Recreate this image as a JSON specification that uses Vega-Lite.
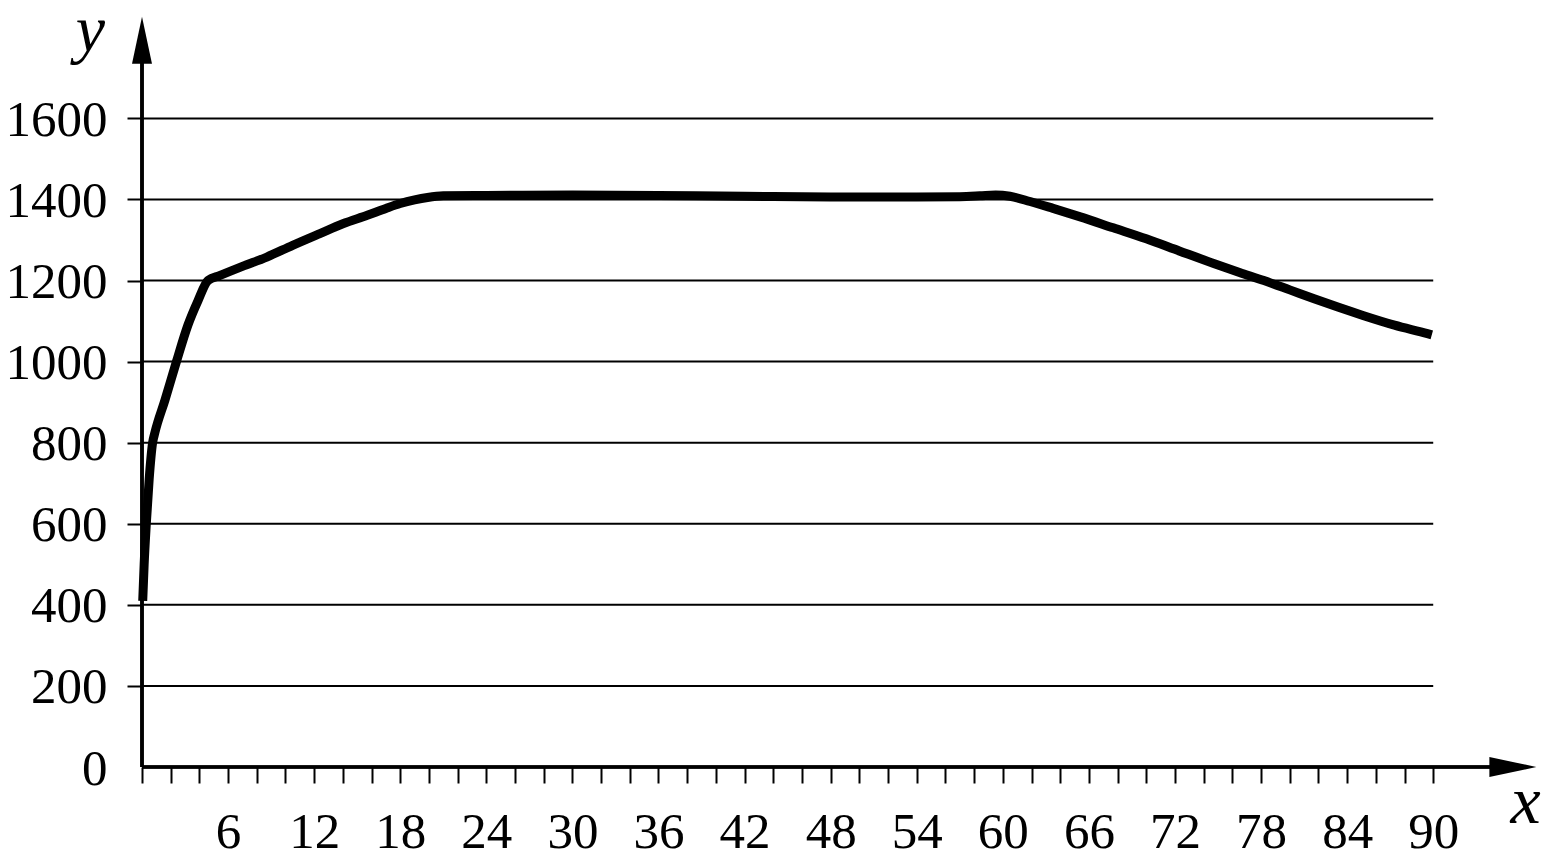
{
  "$schema": "https://vega.github.io/schema/vega-lite/v6.json",
  "width": 1406,
  "height": 754,
  "autosize": {"type": "none"},
  "padding": {"left": 142, "top": 13, "right": 6, "bottom": 96},
  "background": "white",
  "config": {"view": {"stroke": null}, "font": "Liberation Serif"},
  "datasets": {
    "curve": [
      {"x": 0.05, "y": 410}, {"x": 0.15, "y": 500}, {"x": 0.3, "y": 600}, {"x": 0.5, "y": 710},
      {"x": 0.74, "y": 800}, {"x": 0.9, "y": 825}, {"x": 1.6, "y": 905}, {"x": 2.4, "y": 1000},
      {"x": 3.2, "y": 1090}, {"x": 3.9, "y": 1150}, {"x": 4.6, "y": 1200}, {"x": 5.4, "y": 1212},
      {"x": 7.0, "y": 1235}, {"x": 8.7, "y": 1258}, {"x": 10.5, "y": 1287}, {"x": 12.4, "y": 1316},
      {"x": 14.0, "y": 1340}, {"x": 15.7, "y": 1361}, {"x": 17.0, "y": 1378}, {"x": 18.0, "y": 1390},
      {"x": 19.0, "y": 1399}, {"x": 19.9, "y": 1405}, {"x": 21, "y": 1409}, {"x": 24, "y": 1410},
      {"x": 30, "y": 1411}, {"x": 36, "y": 1410}, {"x": 42, "y": 1408}, {"x": 48, "y": 1406},
      {"x": 54, "y": 1406}, {"x": 57, "y": 1407}, {"x": 58.4, "y": 1409}, {"x": 59.5, "y": 1411},
      {"x": 60.5, "y": 1408}, {"x": 61.9, "y": 1395}, {"x": 63.5, "y": 1378}, {"x": 65.4, "y": 1357},
      {"x": 67.7, "y": 1330}, {"x": 70.0, "y": 1303}, {"x": 72.3, "y": 1273}, {"x": 74.7, "y": 1242},
      {"x": 76.5, "y": 1220}, {"x": 78.2, "y": 1200}, {"x": 80.0, "y": 1177}, {"x": 81.7, "y": 1155},
      {"x": 83.4, "y": 1134}, {"x": 85.1, "y": 1114}, {"x": 87.3, "y": 1090}, {"x": 89.6, "y": 1069},
      {"x": 89.9, "y": 1066}
    ],
    "grid": [
      {"level": 200}, {"level": 400}, {"level": 600}, {"level": 800},
      {"level": 1000}, {"level": 1200}, {"level": 1400}, {"level": 1600}
    ]
  },
  "layer": [
    {
      "data": {"name": "grid"},
      "mark": {"type": "rule", "color": "black", "strokeWidth": 2},
      "encoding": {
        "y": {"field": "level", "type": "quantitative", "title": "y"},
        "x": {"datum": 0, "type": "quantitative", "title": "x"},
        "x2": {"datum": 90}
      }
    },
    {
      "data": {"name": "grid"},
      "mark": {"type": "rule", "color": "black", "strokeWidth": 2.6},
      "encoding": {
        "x": {"datum": 0, "type": "quantitative", "title": "x"},
        "y": {"datum": 0, "type": "quantitative", "title": "y"},
        "y2": {"datum": 1790}
      }
    },
    {
      "data": {"name": "grid"},
      "mark": {"type": "rule", "color": "black", "strokeWidth": 2.6},
      "encoding": {
        "x": {"datum": 0, "type": "quantitative", "title": "x"},
        "x2": {"datum": 96},
        "y": {"datum": 0, "type": "quantitative", "title": "y"}
      }
    },
    {
      "data": {"values": [{}]},
      "mark": {"type": "point", "filled": true, "color": "black", "opacity": 1, "strokeWidth": 0, "size": 2209, "shape": "M0,-1L0.4255,1L-0.4255,1Z"},
      "encoding": {
        "x": {"datum": 0, "type": "quantitative", "title": "x"},
        "y": {"datum": 1793, "type": "quantitative", "title": "y"}
      }
    },
    {
      "data": {"values": [{}]},
      "mark": {"type": "point", "filled": true, "color": "black", "opacity": 1, "strokeWidth": 0, "size": 2209, "shape": "M1,0L-1,0.4255L-1,-0.4255Z"},
      "encoding": {
        "x": {"datum": 95.55, "type": "quantitative", "title": "x"},
        "y": {"datum": 0, "type": "quantitative", "title": "y"}
      }
    },
    {
      "data": {"name": "curve"},
      "mark": {"type": "line", "color": "black", "strokeWidth": 9, "strokeJoin": "round", "strokeCap": "butt", "interpolate": "monotone"},
      "encoding": {
        "x": {
          "field": "x", "type": "quantitative", "title": "x",
          "scale": {"domain": [0, 98], "nice": false, "zero": false},
          "axis": {
            "domain": false, "grid": false, "tickCount": 200,
            "values": [0,2,4,6,8,10,12,14,16,18,20,22,24,26,28,30,32,34,36,38,40,42,44,46,48,50,52,54,56,58,60,62,64,66,68,70,72,74,76,78,80,82,84,86,88,90],
            "ticks": true, "tickSize": 16, "tickWidth": 2, "tickColor": "black",
            "format": "d",
            "labelExpr": "datum.value > 0 && datum.value % 6 === 0 ? datum.label : ''",
            "labelFont": "Liberation Serif", "labelFontSize": 51, "labelColor": "black",
            "labelPadding": 24, "labelOverlap": false, "labelFlush": false, "labelBound": false,
            "title": "x", "titleFont": "Liberation Serif", "titleFontStyle": "italic", "titleFontWeight": "normal",
            "titleFontSize": 68, "titleColor": "black", "titleAngle": 0, "titleAlign": "center",
            "titleBaseline": "alphabetic", "titleX": 1383, "titleY": 55
          }
        },
        "y": {
          "field": "y", "type": "quantitative", "title": "y",
          "scale": {"domain": [0, 1860], "nice": false, "zero": false},
          "axis": {
            "domain": false, "grid": false, "tickCount": 100,
            "values": [0,200,400,600,800,1000,1200,1400,1600],
            "format": "d",
            "ticks": true, "tickSize": 15, "tickWidth": 2, "tickColor": "black",
            "tickOpacity": {"condition": {"test": "datum.value === 0", "value": 0}, "value": 1},
            "labelFont": "Liberation Serif", "labelFontSize": 51, "labelColor": "black",
            "labelPadding": 20, "labelOffset": 2, "labelOverlap": false, "labelFlush": false, "labelBound": false,
            "title": "y", "titleFont": "Liberation Serif", "titleFontStyle": "italic", "titleFontWeight": "normal",
            "titleFontSize": 66, "titleColor": "black", "titleAngle": 0, "titleAlign": "center",
            "titleBaseline": "alphabetic", "titleX": -52, "titleY": 37
          }
        }
      }
    }
  ]
}
